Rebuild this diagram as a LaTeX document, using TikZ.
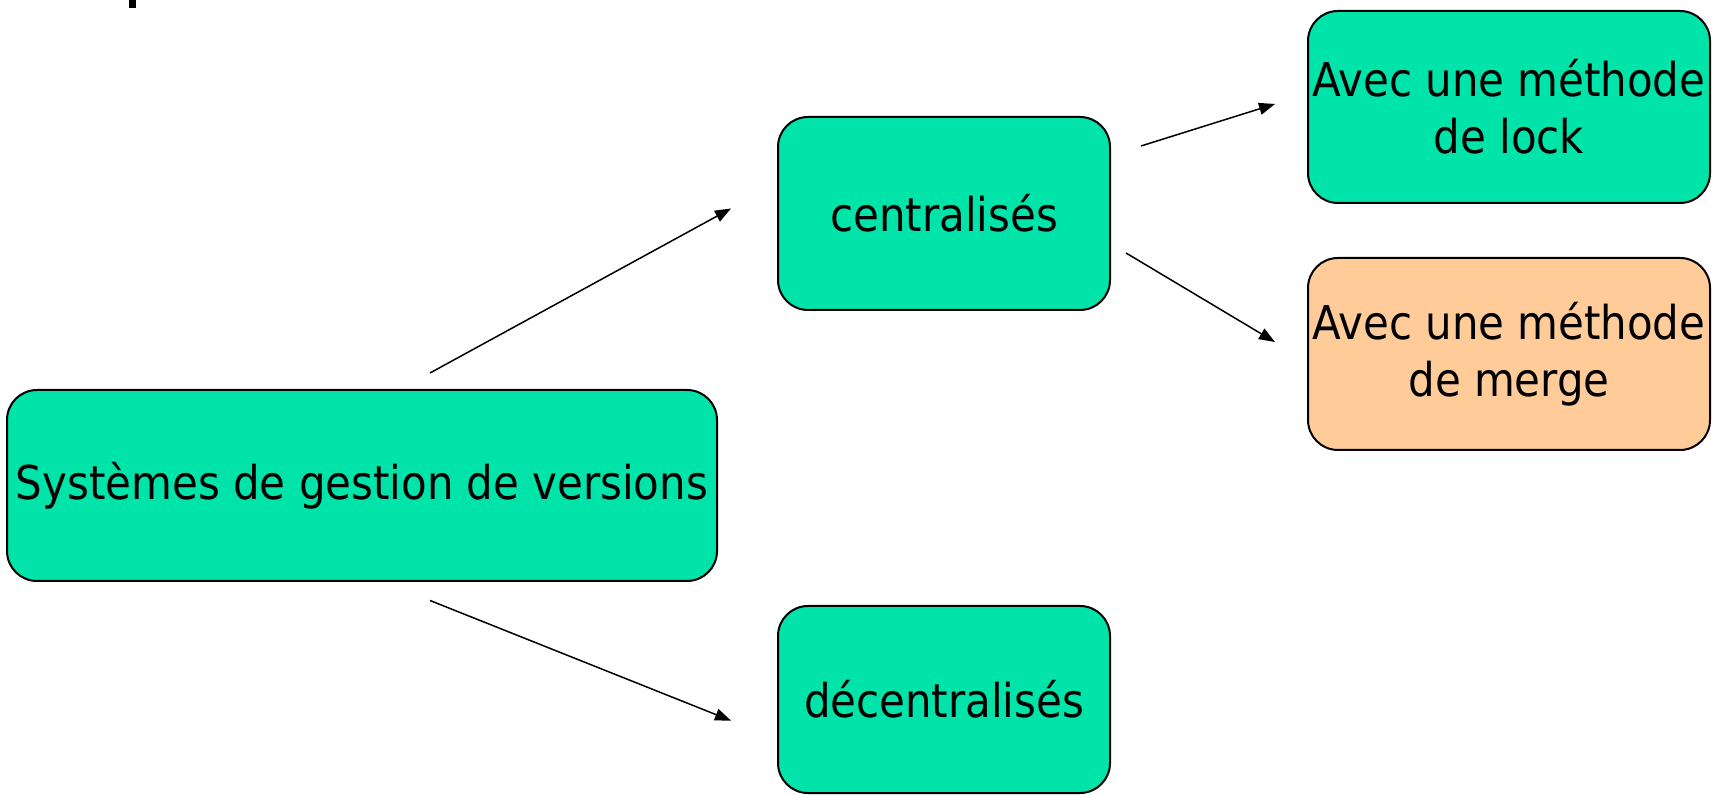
\documentclass[tikz,border=0pt]{standalone}
\usepackage{fontspec}
\setmainfont{DejaVu Sans Condensed}
\usetikzlibrary{arrows.meta}
\definecolor{boxgreen}{RGB}{0,228,170}
\definecolor{boxpeach}{RGB}{255,204,153}
\tikzset{
  box/.style={draw=black, line width=1pt, rounded corners=15pt, fill=boxgreen,
    inner sep=0pt, align=center, font=\fontsize{23.3}{28.5}\selectfont},
  link/.style={line width=0.75pt, -{Triangle[length=8pt,width=6pt]}}
}
\begin{document}
\begin{tikzpicture}[x=0.5pt, y=-0.5pt]
  \useasboundingbox (0,0) rectangle (1712,795);
  % fragment of a heading cut by the top edge
  \fill (129,0) rectangle (136,8);

  \node[box, minimum width=355pt, minimum height=95.5pt] (main) at (362,485.5)
    {\raisebox{-1.5pt}{Systèmes de gestion de versions}};
  \node[box, minimum width=166pt, minimum height=96.5pt] (central) at (944,213.5)
    {centralisés};
  \node[box, minimum width=166pt, minimum height=93.5pt] (decentral) at (944,699.5)
    {\raisebox{-1.5pt}{décentralisés}};
  \node[box, minimum width=201pt, minimum height=96pt] (lock) at (1509,107)
    {Avec une méthode\\de lock};
  \node[box, fill=boxpeach, minimum width=201pt, minimum height=96pt] (merge) at (1509,354)
    {Avec une méthode\\de merge};

  % arrow ends, set apart from the boxes
  \coordinate (mainUp) at (430,373);
  \coordinate (centralIn) at (731,208.5);
  \coordinate (mainDown) at (430,600.5);
  \coordinate (decentralIn) at (731,720.6);
  \coordinate (centralUp) at (1141,146);
  \coordinate (lockIn) at (1275,104);
  \coordinate (centralDown) at (1126,253);
  \coordinate (mergeIn) at (1275,342);

  \draw[link] (mainUp) -- (centralIn);
  \draw[link] (mainDown) -- (decentralIn);
  \draw[link] (centralUp) -- (lockIn);
  \draw[link] (centralDown) -- (mergeIn);
\end{tikzpicture}
\end{document}
